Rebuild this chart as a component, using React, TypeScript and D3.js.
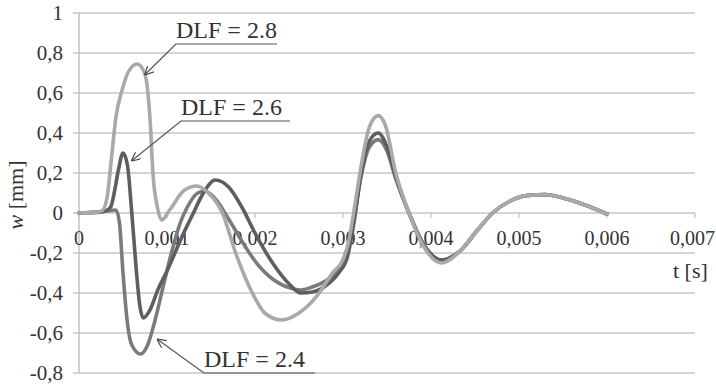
import React, { useEffect, useRef } from "react";
import * as d3 from "d3";

// time in ms, deflection w in mm
const t28 = [0, 0.15, 0.26, 0.32, 0.37, 0.42, 0.49, 0.56, 0.66, 0.73, 0.77, 0.81, 0.84, 0.89, 0.94, 1.03, 1.2, 1.34, 1.47, 1.63, 1.78, 1.97, 2.11, 2.3, 2.5, 2.7, 2.88, 3.0, 3.06, 3.11, 3.2, 3.3, 3.4, 3.48, 3.6, 3.75, 3.92, 4.12, 4.33, 4.52, 4.7, 4.9, 5.1, 5.3, 5.5, 5.75, 6.0];
const w28 = [0, 0.002, 0.01, 0.08, 0.28, 0.48, 0.615, 0.705, 0.745, 0.715, 0.65, 0.45, 0.2, 0.03, -0.035, 0.015, 0.115, 0.135, 0.1, 0, -0.2, -0.4, -0.5, -0.535, -0.5, -0.417, -0.3, -0.233, -0.15, -0.03, 0.22, 0.43, 0.487, 0.44, 0.2, 0, -0.17, -0.25, -0.19, -0.09, 0, 0.06, 0.088, 0.092, 0.075, 0.04, -0.005];

const t26 = [0, 0.2, 0.3, 0.36, 0.4, 0.45, 0.5, 0.55, 0.6, 0.65, 0.69, 0.73, 0.8, 0.9, 1.0, 1.1, 1.2, 1.3, 1.4, 1.55, 1.7, 1.85, 2.0, 2.2, 2.4, 2.52, 2.65, 2.8, 2.95, 3.05, 3.12, 3.2, 3.3, 3.4, 3.5, 3.6, 3.75, 3.92, 4.12, 4.33, 4.52, 4.7, 4.9, 5.1, 5.3, 5.5, 5.75, 6.0];
const w26 = [0, 0.003, 0.01, 0.03, 0.1, 0.22, 0.3, 0.24, 0.0, -0.28, -0.46, -0.525, -0.49, -0.38, -0.29, -0.19, -0.09, 0.0, 0.09, 0.165, 0.13, 0.03, -0.1, -0.25, -0.36, -0.4, -0.395, -0.365, -0.3, -0.22, -0.06, 0.18, 0.36, 0.4, 0.33, 0.18, 0, -0.16, -0.235, -0.19, -0.09, 0, 0.06, 0.088, 0.092, 0.075, 0.04, -0.005];

const t24 = [0, 0.2, 0.35, 0.42, 0.46, 0.5, 0.55, 0.6, 0.7, 0.78, 0.85, 0.95, 1.05, 1.15, 1.22, 1.35, 1.43, 1.55, 1.7, 1.85, 2.0, 2.2, 2.4, 2.52, 2.65, 2.8, 2.95, 3.05, 3.12, 3.2, 3.3, 3.4, 3.5, 3.6, 3.75, 3.92, 4.12, 4.33, 4.52, 4.7, 4.9, 5.1, 5.3, 5.5, 5.75, 6.0];
const w24 = [0, 0.005, 0.012, 0.015, -0.05, -0.3, -0.55, -0.66, -0.705, -0.66, -0.56, -0.38, -0.2, -0.05, 0.02, 0.1, 0.11, 0.07, -0.03, -0.14, -0.24, -0.33, -0.375, -0.385, -0.37, -0.34, -0.28, -0.2, -0.05, 0.17, 0.33, 0.367, 0.31, 0.17, 0, -0.16, -0.235, -0.19, -0.09, 0, 0.06, 0.088, 0.092, 0.075, 0.04, -0.005];

const xTicks = [0, 1, 2, 3, 4, 5, 6, 7];
const xTickLabels = ["0", "0,001", "0,002", "0,003", "0,004", "0,005", "0,006", "0,007"];
const yTicks = [1, 0.8, 0.6, 0.4, 0.2, 0, -0.2, -0.4, -0.6, -0.8];
const yTickLabels = ["1", "0,8", "0,6", "0,4", "0,2", "0", "-0,2", "-0,4", "-0,6", "-0,8"];

const series = [
  { name: "DLF = 2.4", t: t24, w: w24, color: "#7b7b7b" },
  { name: "DLF = 2.6", t: t26, w: w26, color: "#5e5e5e" },
  { name: "DLF = 2.8", t: t28, w: w28, color: "#a9a9a9" },
];

// label text position, underline end and the point on the curve it points to
const labels = [
  { text: "DLF = 2.8", t: 0.7, w: 0.69, tx: 176, ty: 38, ux: 277 },
  { text: "DLF = 2.6", t: 0.55, w: 0.26, tx: 181, ty: 115, ux: 290 },
  { text: "DLF = 2.4", t: 0.84, w: -0.63, tx: 204, ty: 367, ux: 315 },
];

const W = 716;
const H = 386;
const FONT = "'Liberation Serif', 'Times New Roman', serif";

export default function App() {
  const ref = useRef<SVGSVGElement>(null);

  useEffect(() => {
    const svg = d3.select(ref.current);
    svg.selectAll("*").remove();

    const x = d3.scaleLinear().domain([0, 7]).range([79, 695]);
    const y = d3.scaleLinear().domain([-0.8, 1]).range([373, 13]);

    svg
      .append("defs")
      .append("marker")
      .attr("id", "arr")
      .attr("viewBox", "0 0 10 10")
      .attr("refX", 10)
      .attr("refY", 5)
      .attr("markerWidth", 9)
      .attr("markerHeight", 9)
      .attr("markerUnits", "userSpaceOnUse")
      .attr("orient", "auto")
      .append("path")
      .attr("d", "M0,0 L10,5 L0,10")
      .attr("fill", "none")
      .attr("stroke", "#444")
      .attr("stroke-width", 1.3);

    // horizontal gridlines
    svg
      .append("g")
      .selectAll("line")
      .data(yTicks)
      .enter()
      .append("line")
      .attr("x1", 73)
      .attr("x2", 695)
      .attr("y1", (d) => y(d))
      .attr("y2", (d) => y(d))
      .attr("stroke", "#c6c6c6")
      .attr("stroke-width", 1.4);

    // y axis line
    svg
      .append("line")
      .attr("x1", x(0))
      .attr("x2", x(0))
      .attr("y1", y(1))
      .attr("y2", y(-0.8))
      .attr("stroke", "#bdbdbd")
      .attr("stroke-width", 1.4);

    // x ticks on the zero line
    svg
      .append("g")
      .selectAll("line")
      .data(xTicks)
      .enter()
      .append("line")
      .attr("x1", (d) => x(d))
      .attr("x2", (d) => x(d))
      .attr("y1", y(0))
      .attr("y2", y(0) + 5)
      .attr("stroke", "#bdbdbd")
      .attr("stroke-width", 1.2);

    svg
      .append("g")
      .selectAll("text")
      .data(yTicks)
      .enter()
      .append("text")
      .attr("x", 63)
      .attr("y", (d) => y(d))
      .attr("dy", "0.35em")
      .attr("text-anchor", "end")
      .attr("font-family", FONT)
      .attr("font-size", 21)
      .attr("fill", "#333")
      .text((d, i) => yTickLabels[i]);

    const last = xTicks.length - 1;
    svg
      .append("g")
      .selectAll("text")
      .data(xTicks)
      .enter()
      .append("text")
      .attr("x", (d, i) => (i === last ? W - 1 : x(d)))
      .attr("y", 245)
      .attr("text-anchor", (d, i) => (i === last ? "end" : "middle"))
      .attr("font-family", FONT)
      .attr("font-size", 20)
      .attr("fill", "#333")
      .text((d, i) => xTickLabels[i]);

    // axis titles
    const yt = svg
      .append("text")
      .attr("transform", "translate(23,195) rotate(-90)")
      .attr("text-anchor", "middle")
      .attr("font-family", FONT)
      .attr("font-size", 22)
      .attr("fill", "#333");
    yt.append("tspan").attr("font-style", "italic").text("w");
    yt.append("tspan").text(" [mm]");

    svg
      .append("text")
      .attr("x", 673)
      .attr("y", 278)
      .attr("font-family", FONT)
      .attr("font-size", 22)
      .attr("fill", "#333")
      .text("t [s]");

    const gen = d3
      .line<[number, number]>()
      .x((d) => d[0])
      .y((d) => d[1])
      .curve(d3.curveMonotoneX);

    series.forEach((s) => {
      const pts: [number, number][] = s.t.map((tv, i) => [x(tv), y(s.w[i])]);
      svg
        .append("path")
        .attr("d", gen(pts))
        .attr("fill", "none")
        .attr("stroke", s.color)
        .attr("stroke-width", 3.6)
        .attr("stroke-linejoin", "round")
        .attr("stroke-linecap", "round");
    });

    // annotations
    labels.forEach((l) => {
      const uy = l.ty + 6;
      svg
        .append("line")
        .attr("x1", l.tx)
        .attr("x2", l.ux)
        .attr("y1", uy)
        .attr("y2", uy)
        .attr("stroke", "#555")
        .attr("stroke-width", 1.1);
      svg
        .append("line")
        .attr("x1", l.tx)
        .attr("y1", uy)
        .attr("x2", x(l.t) + 4)
        .attr("y2", y(l.w))
        .attr("stroke", "#555")
        .attr("stroke-width", 1.1)
        .attr("marker-end", "url(#arr)");
      svg
        .append("text")
        .attr("x", l.tx)
        .attr("y", l.ty)
        .attr("font-family", FONT)
        .attr("font-size", 24)
        .attr("fill", "#333")
        .text(l.text);
    });
  }, []);

  return (
    <svg
      ref={ref}
      width={W}
      height={H}
      style={{ position: "absolute", left: 0, top: 0, background: "#fff" }}
    ></svg>
  );
}
